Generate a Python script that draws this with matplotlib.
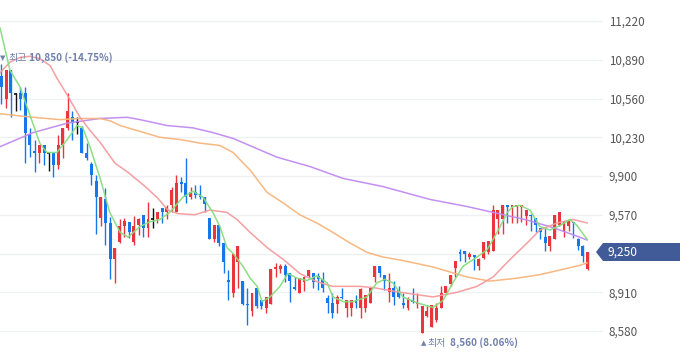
import matplotlib
matplotlib.use('Agg')
import matplotlib.pyplot as plt
from matplotlib.patches import Polygon

plt.rcParams['font.family'] = ['Noto Sans CJK KR', 'DejaVu Sans']

# ---------------- data ----------------
opens = [10750,10560,10800,10600,10610,10610,10260,10110,10100,10160,10100,10100,9990,10160,10310,10400,10360,10310,10100,10000,
         9860,9540,9700,9500,9190,9340,9470,9510,9340,9480,9570,9460,9530,9530,9630,9590,9650,9590,9850,9840,
         9720,9760,9750,9720,9540,9360,9480,9330,9010,8900,9170,9010,8810,8750,8950,8840,8780,8810,9110,9110,
         9130,9070,8950,8900,9000,9050,9070,9050,9020,8860,8820,8810,8870,8780,8780,8840,8780,8780,8820,9040,
         9130,9060,8910,8950,8930,8820,8780,8840,8810,8560,8710,8610,8670,8780,8900,8980,9120,9250,9260,9210,
         9230,9130,9200,9250,9260,9530,9530,9650,9640,9640,9640,9560,9570,9540,9460,9380,9300,9360,9480,9420,
         9470,9510,9360,9300,9110]
highs = [10850,10800,10800,10610,10660,10660,10310,10210,10160,10160,10100,10100,10250,10310,10610,10450,10400,10330,10180,10020,
         9910,9720,9800,9550,9290,9530,9540,9510,9560,9540,9570,9680,9630,9590,9630,9650,9810,9910,9890,10050,
         9810,9820,9820,9720,9540,9480,9480,9330,9100,9240,9300,9010,8950,8900,8950,8840,8870,9110,9160,9150,
         9150,9070,9040,9030,9050,9100,9070,9070,9080,8890,8900,8890,8950,8840,8840,8890,8950,8890,8950,9130,
         9130,9060,9070,9010,8960,8900,8870,8950,8900,8790,8800,8800,8820,8960,8960,9060,9180,9280,9260,9250,
         9230,9200,9340,9350,9650,9610,9650,9650,9650,9650,9650,9610,9580,9540,9460,9460,9390,9570,9590,9520,
         9530,9510,9370,9310,9250]
lows = [10510,10480,10400,10450,10460,10010,10060,9930,10010,9990,9940,9890,9960,10050,10290,10210,10260,10100,10040,9820,
        9410,9470,9310,9020,8990,9330,9380,9370,9310,9400,9380,9380,9460,9500,9500,9530,9590,9590,9760,9670,
        9700,9710,9700,9590,9360,9340,9300,9070,8840,8870,8950,8800,8630,8710,8780,8770,8730,8810,9040,9070,
        9000,8830,8930,8900,8920,9030,8950,8930,8910,8730,8690,8730,8850,8700,8710,8780,8690,8740,8820,9000,
        9040,8930,8830,8800,8860,8780,8760,8820,8780,8560,8700,8610,8660,8780,8900,8960,9040,9180,9170,9190,
        9100,9100,9190,9240,9260,9410,9410,9500,9500,9500,9510,9480,9430,9420,9360,9260,9260,9360,9470,9380,
        9430,9370,9270,9170,9100]
closes = [10660,10800,10610,10600,10560,10270,10160,10100,10160,10100,10100,9990,10160,10310,10450,10360,10360,10100,10050,9910,
          9720,9720,9500,9190,9290,9470,9520,9420,9470,9530,9460,9530,9530,9590,9590,9640,9780,9840,9830,9720,
          9760,9740,9720,9660,9360,9480,9330,9170,9000,9240,9300,8810,8800,8900,8790,8790,8870,9110,9120,9130,
          9060,9010,8940,9030,9040,9100,9000,9020,8950,8820,8730,8870,8860,8840,8840,8820,8940,8890,8950,9130,
          9070,9010,8950,8870,8870,8800,8860,8830,8820,8790,8750,8800,8780,8900,8960,9060,9180,9240,9240,9240,
          9210,9190,9340,9350,9610,9610,9650,9640,9650,9650,9650,9610,9560,9480,9420,9330,9390,9570,9590,9520,
          9520,9500,9300,9220,9250]

# moving average lines (x = candle index, value)
ma5_x = [-0.3,1.8,3.9,6.0,8.1,9.6,11.7,13.9,16.0,17.2,18.7,20.8,22.9,25.1,26.8,29.3,31.4,33.5,35.6,38.4,
         40.5,42.6,44.7,46.2,47.7,49.0,51.1,52.6,54.1,55.1,56.8,58.9,60.6,62.5,64.6,66.7,68.9,70.1,72.3,74.4,
         77.3,79.4,81.1,82.8,84.9,87.9,91.3,93.4,95.5,97.6,100.6,102.7,104.0,105.5,107.0,108.2,109.7,111.8,113.9,116.0,
         118.2,120.3,121.7,123.9]
ma5_v = [11160,10800,10660,10420,10180,10100,10100,10210,10330,10310,10150,9890,9590,9420,9380,9470,9510,9530,9590,9720,
         9770,9720,9590,9470,9290,9240,9130,9030,8960,8830,8870,8960,9070,9030,9010,9050,8990,8870,8830,8830,
         8870,8990,9020,8990,8870,8820,8780,8840,8990,9130,9210,9270,9360,9470,9590,9640,9650,9610,9470,9440,
         9480,9530,9480,9360]
ma20_x = [-0.3,1.8,3.9,6.0,8.1,10.3,11.7,13.9,16.6,18.7,20.8,24.0,26.8,30.4,33.1,35.2,37.3,40.9,44.1,47.7,
          49.8,52.6,56.2,59.6,63.1,66.7,70.1,75.8,78.6,84.3,91.3,96.4,100.6,104.0,107.6,111.2,113.9,117.5,120.9,123.9]
ma20_v = [10780,10870,10910,10920,10900,10840,10735,10590,10400,10290,10190,10010,9930,9810,9710,9610,9580,9570,9610,9590,
          9530,9420,9290,9190,9070,9000,8960,8960,8950,8910,8870,8910,8960,9040,9190,9330,9440,9500,9530,9500]
ma60_x = [-0.3,6.7,12.4,16.6,20.8,23.0,25.1,29.3,33.5,37.8,42.0,46.2,49.0,52.6,56.2,59.6,63.1,66.7,70.1,73.7,
          77.3,80.7,84.3,91.3,98.5,103.3,109.1,113.9,118.2,122.4,123.9]
ma60_v = [10430,10400,10380,10390,10390,10370,10330,10280,10230,10210,10180,10160,10100,9950,9760,9670,9570,9500,9420,9330,
          9250,9210,9185,9125,9040,9005,9030,9060,9100,9140,9160]
ma120_x = [-0.3,6.7,13.9,20.8,26.6,29.3,35.0,40.5,44.7,49.0,58.3,65.3,72.2,80.7,90.7,98.5,104.0,111.2,116.7,120.9,123.9]
ma120_v = [10150,10270,10350,10390,10400,10380,10330,10310,10270,10220,10060,9980,9880,9810,9700,9640,9590,9525,9460,9400,9355]

yticks = [8580, 8910, 9240, 9570, 9900, 10230, 10560, 10890, 11220]
last_price = 9250
hi_idx, hi_val, hi_pct = 0, 10850, '(-14.75%)'
lo_idx, lo_val, lo_pct = 89, 8560, '(8.06%)'

# ---------------- figure ----------------
W, H = 680, 358
fig = plt.figure(figsize=(W / 100, H / 100), dpi=100)
ax = fig.add_axes([0, 0, 603 / W, 1])
ax.set_xlim(-0.317, 127.25)
ax.set_ylim(8350, 11399)

RED, BLUE, BLACK = '#ec343c', '#1677ec', '#111111'
bw = 0.62
for i, (o, h, l, c) in enumerate(zip(opens, highs, lows, closes)):
    col = RED if c > o else (BLUE if c < o else BLACK)
    ax.vlines(i, l, h, color=col, lw=1.0, zorder=2)
    if c == o:
        ax.hlines(o, i - bw / 2, i + bw / 2, color=col, lw=1.2, zorder=3)
    else:
        bot = min(o, c)
        hgt = max(abs(c - o), 12)
        ax.bar(i, hgt, bottom=bot, width=bw, color=col, lw=0, zorder=3)

ax.plot(ma120_x, ma120_v, color='#c08af2', lw=1.1, zorder=4, alpha=0.95)
ax.plot(ma60_x, ma60_v, color='#f7b47a', lw=1.1, zorder=4, alpha=0.95)
ax.plot(ma20_x, ma20_v, color='#f59a9c', lw=1.1, zorder=4, alpha=0.95)
ax.plot(ma5_x, ma5_v, color='#86dd7e', lw=1.1, zorder=5, alpha=0.95)

ax.set_yticks(yticks)
# the tick label at the current price level is covered by the price tag in the reference
ax.set_yticklabels(['' if abs(v - last_price) < 100 else f'{v:,}' for v in yticks])
ax.yaxis.tick_right()
ax.tick_params(axis='y', length=0, pad=4, labelsize=8.4, labelcolor='#555555')
ax.set_xticks([])
ax.grid(axis='y', color='#eef0f4', lw=1.0, zorder=0)
ax.set_axisbelow(True)
for s in ax.spines.values():
    s.set_visible(False)

# annotations for high / low
ACOL = '#7080ad'
def label(idx, val, dy, pieces):
    for txt, dx, fs, fam, wt in pieces:
        ax.annotate(txt, xy=(idx, val), xytext=(dx, dy), textcoords='offset pixels',
                    ha='left', va='center', fontsize=fs, color=ACOL, family=fam,
                    fontweight=wt, zorder=6)

label(hi_idx, hi_val, 6.5, [('▼', -1.5, 5.0, ['DejaVu Sans'], 'normal'),
                            ('최고', 6.5, 7.2, ['Noto Sans CJK KR'], 'normal'),
                            (f'{hi_val:,} {hi_pct}', 27.5, 7.2, ['Noto Sans CJK KR', 'DejaVu Sans'], 'bold')])
label(lo_idx, lo_val, -9.6, [('▲', -1.3, 5.0, ['DejaVu Sans'], 'normal'),
                             ('최저', 5.7, 7.2, ['Noto Sans CJK KR'], 'normal'),
                             (f'{lo_val:,} {lo_pct}', 27.7, 7.2, ['Noto Sans CJK KR', 'DejaVu Sans'], 'bold')])

# current price tag
def fp(x, y):
    return (x / W, 1 - y / H)
poly = Polygon([fp(596, 252), fp(603, 243), fp(680, 243), fp(680, 261), fp(603, 261)],
               closed=True, transform=fig.transFigure, facecolor='#405b98', edgecolor='none', zorder=5)
fig.patches.append(poly)
fig.text(608 / W, 1 - 252.3 / H, f'{last_price:,}', color='white', fontsize=8.6,
         ha='left', va='center', zorder=6)

fig.savefig('out.png', dpi=100)
